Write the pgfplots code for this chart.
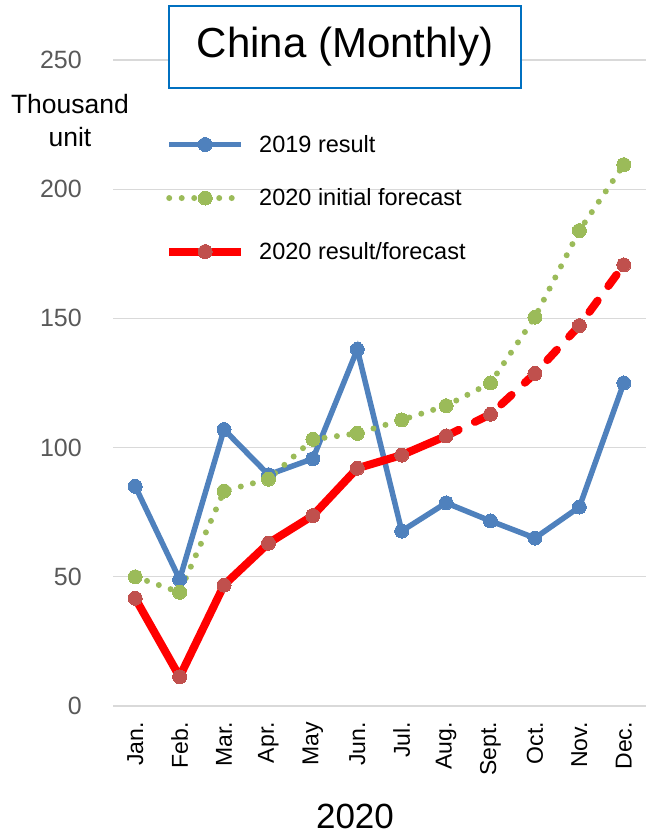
\documentclass[border=0pt]{standalone}
\usepackage{pgfplots}
\pgfplotsset{compat=1.18}
\usepackage{fontspec}
\setmainfont{Liberation Sans}
\definecolor{c19}{HTML}{4F81BD}
\definecolor{cgreen}{HTML}{9BBB59}
\definecolor{cred}{HTML}{FF0000}
\definecolor{credm}{HTML}{C0504D}
\definecolor{cgrid}{HTML}{D9D9D9}
\definecolor{ctick}{HTML}{595959}
\definecolor{ctitle}{HTML}{0070C0}
\begin{document}
\begin{tikzpicture}
\useasboundingbox (0,0) rectangle (646pt,834pt);
\begin{axis}[
  at={(113pt,128pt)}, anchor=south west,
  scale only axis, width=533pt, height=646pt,
  xmin=-0.5, xmax=11.5, ymin=0, ymax=250,
  clip=false,
  axis line style={draw=none},
  major tick style={draw=none},
  ytick={0,50,100,150,200,250},
  ymajorgrids, grid style={cgrid, line width=1.3pt},
  xtick={0,...,11},
  xticklabels={Jan.,Feb.,Mar.,Apr.,May,Jun.,Jul.,Aug.,Sept.,Oct.,Nov.,Dec.},
  /pgf/number format/assume math mode=true,
  yticklabel style={font=\fontsize{25}{30}\selectfont, text=ctick, anchor=east, inner sep=0pt},
  yticklabel shift=31pt,
  xticklabel style={font=\fontsize{23}{28}\selectfont, text=black, rotate=90, anchor=east, inner sep=0pt},
  xticklabel shift=16pt,
  xlabel={2020},
  xlabel style={font=\fontsize{35}{40}\selectfont, at={(axis description cs:0.454,0)}, anchor=base, yshift=-122pt, inner sep=0pt},
  legend image code/.code={\draw[mark repeat=2, mark phase=2, #1] plot coordinates {(0pt,0pt)(36pt,0pt)(72pt,0pt)};},
  legend style={at={(axis description cs:0.092,0.890)}, anchor=north west, draw=none, fill=none,
    font=\fontsize{23.5}{28}\selectfont, row sep=31pt,
    /tikz/every odd column/.style={column sep=12pt}},
  legend cell align=left,
]
\addplot[c19, line width=5.5pt, mark=*, mark size=7pt, mark options={solid, fill=c19, draw=c19, line width=0pt}]
  coordinates {(0,85)(1,49)(2,107)(3,89.5)(4,95.7)(5,138)(6,67.7)(7,78.6)(8,71.6)(9,65)(10,77)(11,125)};
\addlegendentry{2019 result}
\addplot[cgreen, line width=6pt, line cap=round, dash pattern=on 0pt off 12.5pt, mark=*, mark size=7pt, mark options={solid, fill=cgreen, draw=cgreen, line width=0pt}]
  coordinates {(0,50)(1,44)(2,83.2)(3,87.8)(4,103.2)(5,105.5)(6,110.7)(7,116.2)(8,125)(9,150.5)(10,184)(11,209.5)};
\addlegendentry{2020 initial forecast}
\addplot[cred, line width=8pt, line join=round, mark=*, mark size=7pt, mark options={solid, fill=credm, draw=credm, line width=0pt}]
  coordinates {(0,41.7)(1,11.3)(2,46.8)(3,63)(4,73.7)(5,92)(6,97.1)(7,104.5)};
\addlegendentry{2020 result/forecast}
\addplot[cred, line width=8pt, line cap=round, dash pattern=on 14pt off 18pt, mark=*, mark size=7pt, mark options={solid, fill=credm, draw=credm, line width=0pt}, forget plot]
  coordinates {(7,104.5)(8,112.9)(9,128.7)(10,147.2)(11,170.7)};
\node[align=center, font=\fontsize{26.5}{33}\selectfont, inner sep=0pt] at (rel axis cs:-0.0807,0.9064) {Thousand\\unit};
\end{axis}
\node[draw=ctitle, line width=1.5pt, fill=white, minimum width=352pt, minimum height=82pt, inner sep=0pt,
  font=\fontsize{42}{50}\selectfont] at (345pt,787pt) {China (Monthly)};
\end{tikzpicture}
\end{document}
